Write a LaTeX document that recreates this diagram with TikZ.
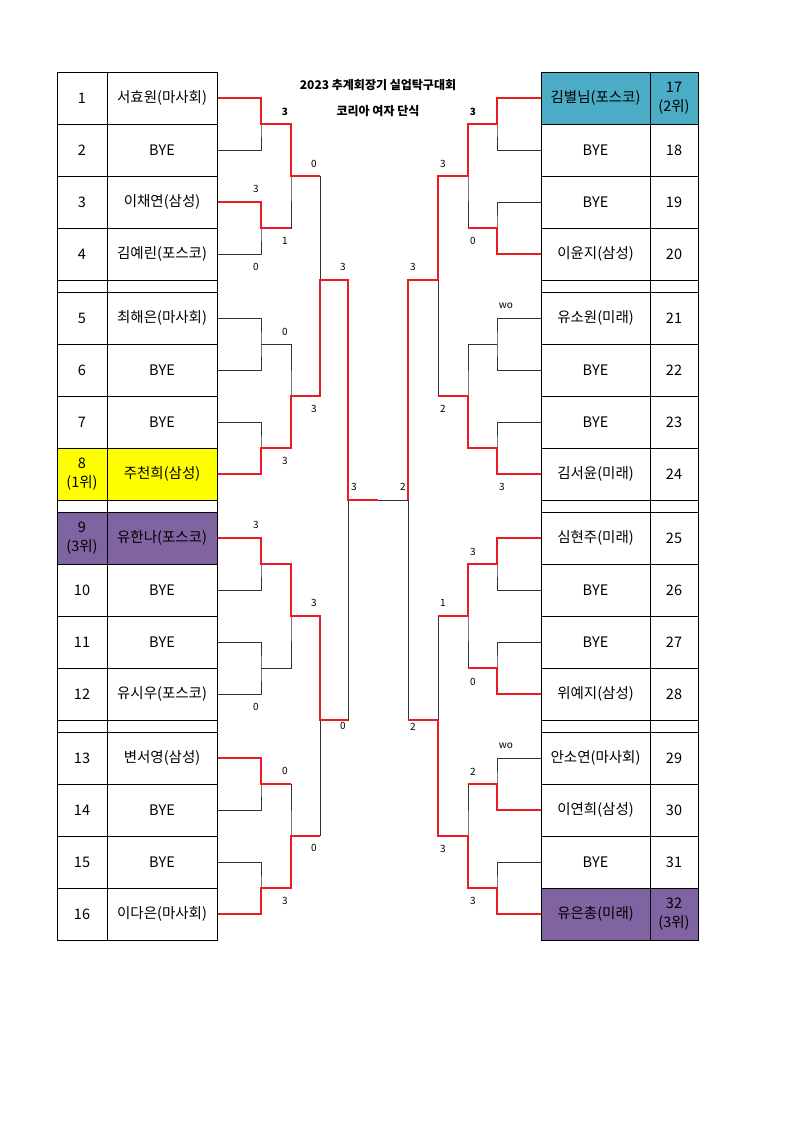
\documentclass[tikz,border=0pt]{standalone}
\usepackage{fontspec}
\setmainfont{Noto Sans CJK KR}
\definecolor{winred}{RGB}{236,28,36}
\definecolor{linegray}{RGB}{50,50,50}
\definecolor{excpurple}{RGB}{128,100,162}
\definecolor{excteal}{RGB}{75,172,198}
\definecolor{excyellow}{RGB}{255,255,0}
\tikzset{
  cell/.style={draw=black, line width=1pt, inner sep=0pt, minimum height=52pt, align=center, font=\fontsize{14.5}{19}\selectfont},
  lname/.style={cell, minimum width=110pt},
  lnum/.style={cell, minimum width=50pt},
  rname/.style={cell, minimum width=109pt},
  rnum/.style={cell, minimum width=48pt},
  gaprow/.style={draw=black, line width=1pt},
  base/.style={draw=linegray, line width=1pt},
  win/.style={draw=winred, line width=2.6pt},
  score/.style={font=\fontsize{10}{11}\selectfont, inner sep=0pt},
  bscore/.style={font=\bfseries\fontsize{10}{11}\selectfont, inner sep=0pt},
  ttl/.style={font=\bfseries\fontsize{12}{14}\selectfont, inner sep=0pt}
}
\begin{document}
\begin{tikzpicture}[x=1pt,y=-1pt]
\useasboundingbox (0,0) rectangle (794,1122);
\fill[white] (0,0) rectangle (794,1122);

% title
\node[ttl] (t1) at (378,85) {2023 추계회장기 실업탁구대회};
\node[ttl] (t2) at (378,111) {코리아 여자 단식};

% gap rows
\foreach \yg in {280,500,720} {
  \draw[gaprow] (57,\yg) rectangle (107,\yg+12);
  \draw[gaprow] (107,\yg) rectangle (217,\yg+12);
  \draw[gaprow] (541,\yg) rectangle (650,\yg+12);
  \draw[gaprow] (650,\yg) rectangle (698,\yg+12);
}

% left table
\node[lnum] (c1) at (82,98) {1};   \node[lname] (n1) at (162,98) {서효원(마사회)};
\node[lnum] (c2) at (82,150) {2};  \node[lname] (n2) at (162,150) {BYE};
\node[lnum] (c3) at (82,202) {3};  \node[lname] (n3) at (162,202) {이채연(삼성)};
\node[lnum] (c4) at (82,254) {4};  \node[lname] (n4) at (162,254) {김예린(포스코)};
\node[lnum] (c5) at (82,318) {5};  \node[lname] (n5) at (162,318) {최해은(마사회)};
\node[lnum] (c6) at (82,370) {6};  \node[lname] (n6) at (162,370) {BYE};
\node[lnum] (c7) at (82,422) {7};  \node[lname] (n7) at (162,422) {BYE};
\node[lnum, fill=excyellow] (c8) at (82,474) {8\\(1위)};  \node[lname, fill=excyellow] (n8) at (162,474) {주천희(삼성)};
\node[lnum, fill=excpurple] (c9) at (82,538) {9\\(3위)};  \node[lname, fill=excpurple] (n9) at (162,538) {유한나(포스코)};
\node[lnum] (c10) at (82,590) {10}; \node[lname] (n10) at (162,590) {BYE};
\node[lnum] (c11) at (82,642) {11}; \node[lname] (n11) at (162,642) {BYE};
\node[lnum] (c12) at (82,694) {12}; \node[lname] (n12) at (162,694) {유시우(포스코)};
\node[lnum] (c13) at (82,758) {13}; \node[lname] (n13) at (162,758) {변서영(삼성)};
\node[lnum] (c14) at (82,810) {14}; \node[lname] (n14) at (162,810) {BYE};
\node[lnum] (c15) at (82,862) {15}; \node[lname] (n15) at (162,862) {BYE};
\node[lnum] (c16) at (82,914) {16}; \node[lname] (n16) at (162,914) {이다은(마사회)};

% right table
\node[rname, fill=excteal] (n17) at (595.5,98) {김별님(포스코)}; \node[rnum, fill=excteal] (c17) at (674,98) {17\\(2위)};
\node[rname] (n18) at (595.5,150) {BYE};          \node[rnum] (c18) at (674,150) {18};
\node[rname] (n19) at (595.5,202) {BYE};          \node[rnum] (c19) at (674,202) {19};
\node[rname] (n20) at (595.5,254) {이윤지(삼성)};  \node[rnum] (c20) at (674,254) {20};
\node[rname] (n21) at (595.5,318) {유소원(미래)};  \node[rnum] (c21) at (674,318) {21};
\node[rname] (n22) at (595.5,370) {BYE};          \node[rnum] (c22) at (674,370) {22};
\node[rname] (n23) at (595.5,422) {BYE};          \node[rnum] (c23) at (674,422) {23};
\node[rname] (n24) at (595.5,474) {김서윤(미래)};  \node[rnum] (c24) at (674,474) {24};
\node[rname] (n25) at (595.5,538) {심현주(미래)};  \node[rnum] (c25) at (674,538) {25};
\node[rname] (n26) at (595.5,590) {BYE};          \node[rnum] (c26) at (674,590) {26};
\node[rname] (n27) at (595.5,642) {BYE};          \node[rnum] (c27) at (674,642) {27};
\node[rname] (n28) at (595.5,694) {위예지(삼성)};  \node[rnum] (c28) at (674,694) {28};
\node[rname] (n29) at (595.5,758) {안소연(마사회)}; \node[rnum] (c29) at (674,758) {29};
\node[rname] (n30) at (595.5,810) {이연희(삼성)};  \node[rnum] (c30) at (674,810) {30};
\node[rname] (n31) at (595.5,862) {BYE};          \node[rnum] (c31) at (674,862) {31};
\node[rname, fill=excpurple] (n32) at (595.5,914) {유은총(미래)}; \node[rnum, fill=excpurple] (c32) at (674,914) {32\\(3위)};

% base bracket (gray)
\foreach \g/\yt in {0/72,1/292,2/512,3/732} {
  \pgfmathtruncatemacro\pa{4*\g+1}
  \pgfmathtruncatemacro\pb{4*\g+2}
  \pgfmathtruncatemacro\pc{4*\g+3}
  \pgfmathtruncatemacro\pd{4*\g+4}
  \pgfmathtruncatemacro\qa{4*\g+17}
  \pgfmathtruncatemacro\qb{4*\g+18}
  \pgfmathtruncatemacro\qc{4*\g+19}
  \pgfmathtruncatemacro\qd{4*\g+20}
  \draw[base] (n\pa.east) -| (261,\yt+52) |- (n\pb.east);
  \draw[base] (n\pc.east) -| (261,\yt+156) |- (n\pd.east);
  \draw[base] (261,\yt+52) -| (291,\yt+104) |- (261,\yt+156);
  \draw[base] (291,\yt+104) -- (320,\yt+104);
  \draw[base] (n\qa.west) -| (497,\yt+52) |- (n\qb.west);
  \draw[base] (n\qc.west) -| (497,\yt+156) |- (n\qd.west);
  \draw[base] (497,\yt+52) -| (468,\yt+104) |- (497,\yt+156);
  \draw[base] (468,\yt+104) -- (438,\yt+104);
}
\draw[base] (320,176) -- (320,396);
\draw[base] (320,616) -- (320,836);
\draw[base] (320,280) -| (348,720) -- (320,720);
\draw[base] (438,176) -- (438,396);
\draw[base] (438,616) -- (438,836);
\draw[base] (438,280) -| (408,720) -- (438,720);
\draw[base] (348,500) -- (408,500);

% winners (red)
\draw[win] (n1.east) -| (261,124) -| (291,176) -- (320,176);
\draw[win] (n3.east) -| (261,228) -- (291,228);
\draw[win] (n8.east) -| (261,448) -| (291,396) -| (320,280) -| (348,500) -- (378,500);
\draw[win] (n9.east) -| (261,564) -| (291,616) -| (320,720) -- (348,720);
\draw[win] (n13.east) -| (261,784) -- (291,784);
\draw[win] (n16.east) -| (261,888) -| (291,836) -- (320,836);

\draw[win] (n17.west) -| (497,124) -| (468,176) -| (438,280) -| (408,500);
\draw[win] (n20.west) -| (497,228) -- (468,228);
\draw[win] (n24.west) -| (497,448) -| (468,396) -- (438,396);
\draw[win] (n25.west) -| (497,564) -| (468,616) -- (438,616);
\draw[win] (n28.west) -| (497,668) -- (468,668);
\draw[win] (n30.west) -| (497,784) -- (468,784);
\draw[win] (n32.west) -| (497,888) -| (468,836) -| (438,720) -- (408,720);

% scores left
\node[bscore] (s1) at (285,112) {3};
\node[score] (s2) at (314,164) {0};
\node[score] (s3) at (256,189) {3};
\node[score] (s4) at (285,241) {1};
\node[score] (s5) at (256,267) {0};
\node[score] (s6) at (343,267) {3};
\node[score] (s7) at (285,332) {0};
\node[score] (s8) at (314,409) {3};
\node[score] (s9) at (285,461) {3};
\node[score] (s10) at (354,487) {3};
\node[score] (s11) at (256,525) {3};
\node[score] (s12) at (314,603) {3};
\node[score] (s13) at (256,707) {0};
\node[score] (s14) at (343,726) {0};
\node[score] (s15) at (285,771) {0};
\node[score] (s16) at (314,848) {0};
\node[score] (s17) at (285,901) {3};
% scores right
\node[bscore] (r1) at (473,112) {3};
\node[score] (r2) at (443,164) {3};
\node[score] (r3) at (473,241) {0};
\node[score] (r4) at (413,267) {3};
\node[score] (r5) at (506,306) {wo};
\node[score] (r6) at (443,409) {2};
\node[score] (r7) at (502,487) {3};
\node[score] (r8) at (403,487) {2};
\node[score] (r9) at (473,552) {3};
\node[score] (r10) at (443,603) {1};
\node[score] (r11) at (473,682) {0};
\node[score] (r12) at (413,727) {2};
\node[score] (r13) at (506,746) {wo};
\node[score] (r14) at (473,772) {2};
\node[score] (r15) at (443,849) {3};
\node[score] (r16) at (473,901) {3};
\end{tikzpicture}
\end{document}
